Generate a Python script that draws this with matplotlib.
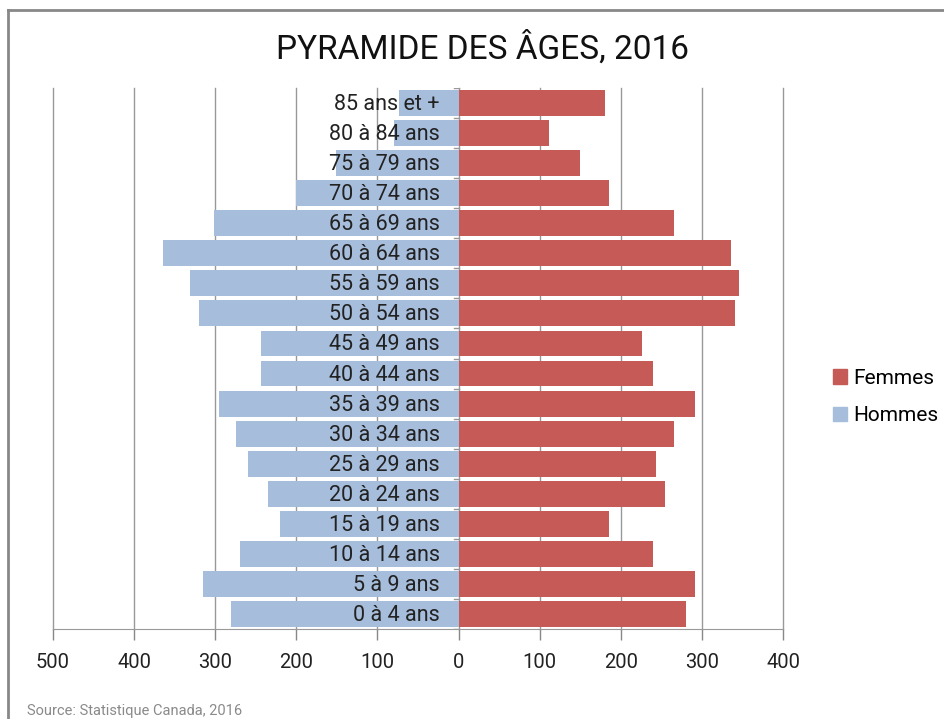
import matplotlib.pyplot as plt
from matplotlib.patches import Rectangle
from matplotlib.lines import Line2D

# categories bottom -> top
ages = ["0 à 4 ans", "5 à 9 ans", "10 à 14 ans", "15 à 19 ans", "20 à 24 ans",
        "25 à 29 ans", "30 à 34 ans", "35 à 39 ans", "40 à 44 ans", "45 à 49 ans",
        "50 à 54 ans", "55 à 59 ans", "60 à 64 ans", "65 à 69 ans", "70 à 74 ans",
        "75 à 79 ans", "80 à 84 ans", "85 ans et +"]
femmes = [281, 291, 240, 185, 255, 244, 265, 291, 240, 226,
          341, 346, 336, 265, 185, 150, 111, 180]
hommes = [280, 315, 270, 220, 235, 259, 275, 295, 244, 244,
          320, 331, 365, 301, 200, 151, 80, 74]
xticks = [-500, -400, -300, -200, -100, 0, 100, 200, 300, 400]

red = "#C55A57"
blue = "#A7BDDC"
font = "Roboto"

fig = plt.figure(figsize=(9.44, 7.19), dpi=100)
ax = fig.add_axes([53 / 944, 90 / 719, 730 / 944, 541 / 719])

y = list(range(len(ages)))
ax.barh(y, femmes, height=0.86, color=red, zorder=2, label="Femmes")
ax.barh(y, [-h for h in hommes], height=0.86, color=blue, zorder=2, label="Hommes")

for yi, lab in zip(y, ages):
    ax.text(-23, yi - 0.05, lab, ha="right", va="center", fontsize=15.5,
            family=font, color="#222222", zorder=3)

ax.set_xlim(-500, 400)
ax.set_ylim(-0.5, len(ages) - 0.5)
ax.set_xticks(xticks)
ax.set_xticklabels([str(abs(v)) for v in xticks], fontsize=14.5, family=font, color="#222222")
ax.tick_params(axis="x", length=8, color="#888888", width=1, pad=9)
ax.set_yticks([])
for v in xticks:
    ax.axvline(v, color="#999999", lw=1, zorder=1, clip_on=False)
for s in ["top", "right", "left"]:
    ax.spines[s].set_visible(False)
ax.spines["bottom"].set_color("#999999")

# category ticks on the central axis
for k in range(len(ages) + 1):
    ax.plot([-6, 0], [k - 0.5, k - 0.5], color="#999999", lw=1, zorder=3)

fig.text(483 / 944, 1 - 48 / 719, "PYRAMIDE DES ÂGES, 2016", ha="center", va="center",
         fontsize=24, family=font, color="#111111")

handles = [Rectangle((0, 0), 1, 1, color=red), Rectangle((0, 0), 1, 1, color=blue)]
fig.legend(handles, ["Femmes", "Hommes"], loc="center left",
           bbox_to_anchor=(814 / 944, 1 - 397 / 719), frameon=False,
           prop={"family": font, "size": 15}, handlelength=0.7, handleheight=0.7,
           handletextpad=0.3, labelspacing=0.9)

fig.text(27 / 944, 1 - 711 / 719, "Source: Statistique Canada, 2016", ha="left", va="center",
         fontsize=10.5, family=font, color="#8a8a8a")

# outer frame (left and top)
fig.add_artist(Line2D([8 / 944, 8 / 944], [0, 1 - 10 / 719], color="#888888", lw=2,
                      transform=fig.transFigure))
fig.add_artist(Line2D([8 / 944, 1], [1 - 10 / 719, 1 - 10 / 719], color="#888888", lw=2,
                      transform=fig.transFigure))

fig.savefig("out.png", dpi=100)
